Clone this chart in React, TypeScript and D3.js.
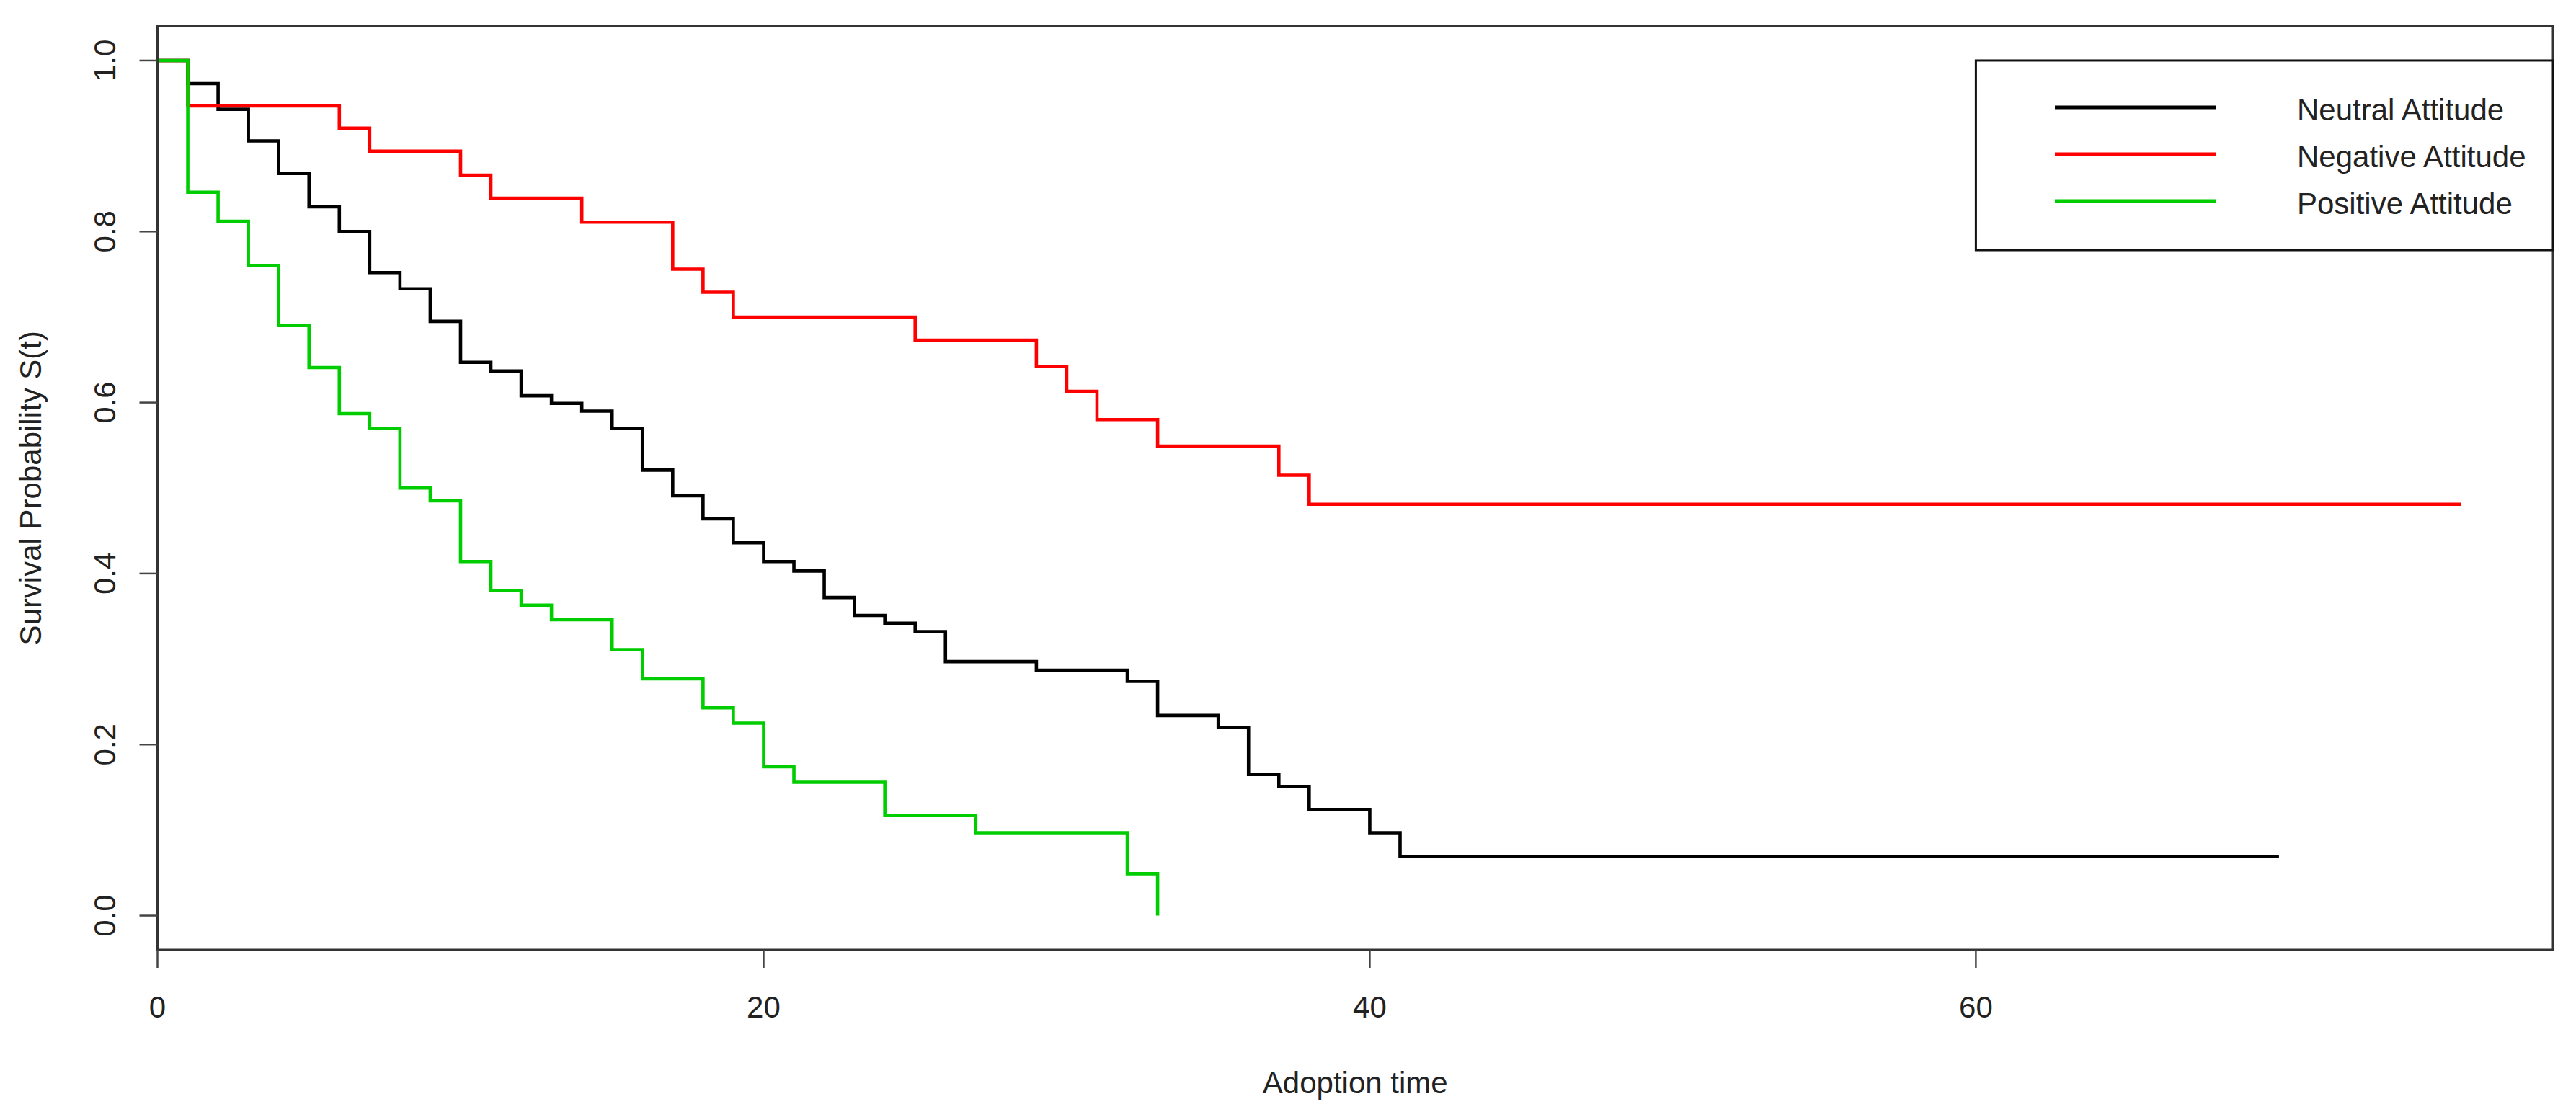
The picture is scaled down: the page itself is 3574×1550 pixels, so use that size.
import React from "react";
import * as d3 from "d3";

// ---- Data ----
const neutralTimes = [0, 1, 2, 3, 4, 5, 6, 7, 8, 9, 10, 11, 12, 13, 14, 15, 16, 17, 18, 19, 20, 21, 22, 23, 24, 25, 26, 29, 32, 33, 35, 36, 37, 38, 40, 41, 70];
const neutralSurv = [1.0, 0.973, 0.943, 0.906, 0.868, 0.829, 0.8, 0.752, 0.733, 0.695, 0.647, 0.637, 0.608, 0.599, 0.59, 0.57, 0.521, 0.491, 0.464, 0.436, 0.414, 0.403, 0.372, 0.351, 0.342, 0.332, 0.297, 0.287, 0.274, 0.234, 0.22, 0.165, 0.151, 0.124, 0.097, 0.069, 0.069];

const negativeTimes = [0, 1, 6, 7, 10, 11, 14, 17, 18, 19, 25, 29, 30, 31, 33, 37, 38, 76];
const negativeSurv = [1.0, 0.947, 0.921, 0.894, 0.866, 0.839, 0.811, 0.756, 0.729, 0.7, 0.673, 0.642, 0.613, 0.58, 0.549, 0.515, 0.481, 0.481];

const positiveTimes = [0, 1, 2, 3, 4, 5, 6, 7, 8, 9, 10, 11, 12, 13, 15, 16, 18, 19, 20, 21, 24, 27, 32, 33];
const positiveSurv = [1.0, 0.846, 0.812, 0.76, 0.69, 0.641, 0.587, 0.57, 0.5, 0.485, 0.414, 0.38, 0.363, 0.346, 0.311, 0.277, 0.243, 0.225, 0.174, 0.156, 0.117, 0.097, 0.049, 0.0];

const seriesNames = ["Neutral Attitude", "Negative Attitude", "Positive Attitude"];
const seriesColors = ["#000000", "#ff0000", "#00cd00"];

const xTicks = [0, 20, 40, 60];
const yTicks = [0.0, 0.2, 0.4, 0.6, 0.8, 1.0];
const xTitle = "Adoption time";
const yTitle = "Survival Probability S(t)";

const W = 3574;
const H = 1550;
const FONT = "'Liberation Sans', Arial, Helvetica, sans-serif";

export default function App() {
  // plot region (R: xaxs="S" -> [0, 76*1.04], yaxs="r" -> [-0.04, 1.04])
  const left = 218.5;
  const right = 3542;
  const top = 36.5;
  const bottom = 1318;
  const xMax = 76 * 1.04;
  const x = d3.scaleLinear().domain([0, xMax]).range([left, right]);
  const y = d3.scaleLinear().domain([-0.04, 1.04]).range([bottom, top]);

  const line = d3
    .line<[number, number]>()
    .x((d) => x(d[0]))
    .y((d) => y(d[1]))
    .curve(d3.curveStepAfter);

  const series = [
    { times: neutralTimes, surv: neutralSurv },
    { times: negativeTimes, surv: negativeSurv },
    { times: positiveTimes, surv: positiveSurv },
  ];

  const textColor = "#222";
  const fs = 42;

  // legend geometry
  const legLeft = x(60);
  const legTop = y(1.0);
  const legBottom = 347;
  const legLineX1 = 2851;
  const legLineX2 = 3075;
  const legTextX = 3187;
  const legRowY = [149, 214, 279];

  return (
    <svg
      width={W}
      height={H}
      viewBox={`0 0 ${W} ${H}`}
      style={{ position: "absolute", left: 0, top: 0, display: "block", background: "#fff" }}
      fontFamily={FONT}
    >
      <rect x={0} y={0} width={W} height={H} fill="#ffffff" />

      {/* curves */}
      {series.map((s, i) => {
        const pts: [number, number][] = s.times.map((t, k) => [t, s.surv[k]]);
        // final drop to 0 at the last time for the positive group is in data already
        return (
          <path
            key={i}
            d={line(pts) || ""}
            fill="none"
            stroke={seriesColors[i]}
            strokeWidth={4.6}
            strokeLinejoin="miter"
            strokeLinecap="butt"
          />
        );
      })}

      {/* box */}
      <rect
        x={left}
        y={top}
        width={right - left}
        height={bottom - top}
        fill="none"
        stroke="#333"
        strokeWidth={3}
      />

      {/* x axis */}
      {xTicks.map((t) => (
        <g key={"xt" + t}>
          <line x1={x(t)} x2={x(t)} y1={bottom} y2={bottom + 25} stroke="#444" strokeWidth={2.5} />
          <text x={x(t)} y={1412} textAnchor="middle" fontSize={fs} fill={textColor}>
            {t}
          </text>
        </g>
      ))}

      {/* y axis */}
      {yTicks.map((t) => (
        <g key={"yt" + t}>
          <line x1={left - 25} x2={left} y1={y(t)} y2={y(t)} stroke="#444" strokeWidth={2.5} />
          <text
            transform={`translate(160,${y(t)}) rotate(-90)`}
            textAnchor="middle"
            fontSize={fs}
            fill={textColor}
          >
            {t.toFixed(1)}
          </text>
        </g>
      ))}

      {/* axis titles */}
      <text x={(left + right) / 2} y={1517} textAnchor="middle" fontSize={fs} fill={textColor}>
        {xTitle}
      </text>
      <text
        transform={`translate(57,${(top + bottom) / 2}) rotate(-90)`}
        textAnchor="middle"
        fontSize={fs}
        fill={textColor}
      >
        {yTitle}
      </text>

      {/* legend */}
      <rect
        x={legLeft}
        y={legTop}
        width={right - legLeft}
        height={legBottom - legTop}
        fill="#fff"
        stroke="#111"
        strokeWidth={3}
      />
      {seriesNames.map((name, i) => (
        <g key={name}>
          <line
            x1={legLineX1}
            x2={legLineX2}
            y1={legRowY[i]}
            y2={legRowY[i]}
            stroke={seriesColors[i]}
            strokeWidth={5}
          />
          <text x={legTextX} y={legRowY[i] + 18} fontSize={fs} fill={textColor}>
            {name}
          </text>
        </g>
      ))}
    </svg>
  );
}
